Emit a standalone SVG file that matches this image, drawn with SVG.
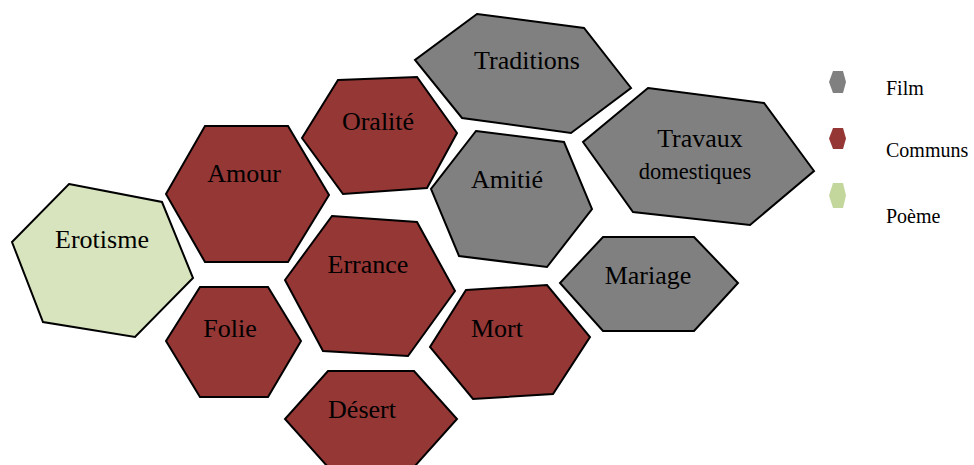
<svg xmlns="http://www.w3.org/2000/svg" width="974" height="465" viewBox="0 0 974 465">
  <style>
    .hex { stroke: #000; stroke-width: 2; stroke-linejoin: miter; }
    .film { fill: #808080; }
    .commun { fill: #953735; }
    .poeme { fill: #d7e4bd; }
    .lbl { font-family: "Liberation Serif", "Times New Roman", serif; font-size: 26px; fill: #000; text-anchor: middle; }
    .small { font-size: 22.5px; }
    .leg { font-family: "Liberation Serif", "Times New Roman", serif; font-size: 20px; fill: #000; }
  </style>
  <rect width="974" height="465" fill="#fff"/>

  <g id="erotisme">
    <polygon class="hex poeme" points="69,184 162,202 193,278 135,337 43,322 12,242"/>
    <text class="lbl" x="102" y="248">Erotisme</text>
  </g>
  <g id="amour">
    <polygon class="hex commun" points="205,126 288,126 329,195 288,262 205,262 166,194"/>
    <text class="lbl" x="244" y="182">Amour</text>
  </g>
  <g id="oralite">
    <polygon class="hex commun" points="338,80 417,77 457,133 427,188 343,194 302,138"/>
    <text class="lbl" x="378" y="130">Oralité</text>
  </g>
  <g id="traditions">
    <polygon class="hex film" points="477,14 584,28 631,88 571,133 462,118 415,60"/>
    <text class="lbl" x="527" y="69">Traditions</text>
  </g>
  <g id="travaux">
    <polygon class="hex film" points="648,88 764,103 814,171 750,225 633,212 583,142"/>
    <text class="lbl" x="700" y="147">Travaux</text>
    <text class="lbl small" x="695" y="179">domestiques</text>
  </g>
  <g id="amitie">
    <polygon class="hex film" points="476,131 564,142 592,209 547,267 459,256 431,189"/>
    <text class="lbl" x="507" y="188">Amitié</text>
  </g>
  <g id="errance">
    <polygon class="hex commun" points="332,216 417,222 455,291 408,356 323,351 285,280"/>
    <text class="lbl" x="368" y="273">Errance</text>
  </g>
  <g id="folie">
    <polygon class="hex commun" points="200,287 268,287 301,341 268,397 200,397 166,341"/>
    <text class="lbl" x="230" y="337">Folie</text>
  </g>
  <g id="desert">
    <polygon class="hex commun" points="328,371 414,371 457,419 414,467 328,467 285,419"/>
    <text class="lbl" x="362" y="418">Désert</text>
  </g>
  <g id="mort">
    <polygon class="hex commun" points="466,290 547,285 590,337 553,394 473,399 430,347"/>
    <text class="lbl" x="497" y="337">Mort</text>
  </g>
  <g id="mariage">
    <polygon class="hex film" points="603,237 694,237 738,283 694,331 603,331 560,283"/>
    <text class="lbl" x="648" y="284">Mariage</text>
  </g>

  <g id="legende">
    <polygon class="film" points="833,71 843,71 846,82 843,93 833,93 829,82"/>
    <polygon class="commun" points="833,128 843,128 846,138.5 843,149 833,149 829,138.5"/>
    <polygon fill="#c3d69b" points="833,183 843,183 846,195.5 843,208 833,208 829,195.5"/>
    <text class="leg" x="886" y="95">Film</text>
    <text class="leg" x="886" y="157">Communs</text>
    <text class="leg" x="886" y="223">Poème</text>
  </g>
</svg>
